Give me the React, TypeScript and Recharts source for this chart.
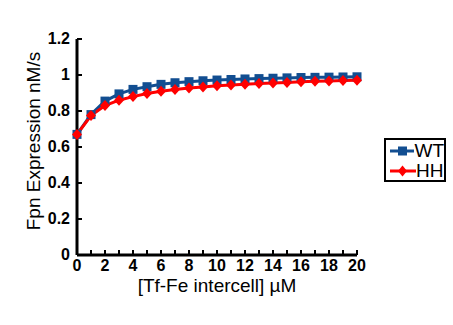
import React from "react";
import { LineChart, Line, XAxis, YAxis, Legend } from "recharts";

const concentrations = [0, 1, 2, 3, 4, 5, 6, 7, 8, 9, 10, 11, 12, 13, 14, 15, 16, 17, 18, 19, 20];
const wtValues = [0.67, 0.78, 0.855, 0.895, 0.92, 0.935, 0.948, 0.957, 0.963, 0.968, 0.972, 0.975, 0.978, 0.98, 0.982, 0.984, 0.986, 0.987, 0.988, 0.989, 0.99];
const hhValues = [0.67, 0.775, 0.83, 0.86, 0.88, 0.897, 0.91, 0.92, 0.928, 0.934, 0.94, 0.945, 0.949, 0.953, 0.956, 0.959, 0.962, 0.965, 0.967, 0.969, 0.971];
const yTicks = [0, 0.2, 0.4, 0.6, 0.8, 1, 1.2];

const data = concentrations.map((c, i) => ({ c, wt: wtValues[i], hh: hhValues[i] }));

const FONT = "Liberation Sans, Arial, sans-serif";
const BLUE = "#124e91";
const RED = "#ff0000";

const XTick = (props: any) => {
  const { x, y, payload } = props;
  const v = payload.value;
  return (
    <g>
      <line x1={x} x2={x} y1={y - 3} y2={y - 8} stroke="#000" strokeWidth={2} />
      {v % 2 === 0 && (
        <text x={x} y={y} dy={13} textAnchor="middle" fontFamily={FONT} fontWeight="bold" fontSize={16} fill="#000">
          {v}
        </text>
      )}
    </g>
  );
};

const YTick = (props: any) => {
  const { x, y, payload } = props;
  return (
    <g>
      <line x1={x + 3} x2={x + 8} y1={y} y2={y} stroke="#000" strokeWidth={2} />
      <text x={x - 4} y={y} dy={5} textAnchor="end" fontFamily={FONT} fontWeight="bold" fontSize={16} fill="#000">
        {String(payload.value)}
      </text>
    </g>
  );
};

const XTitle = (props: any) => {
  const { viewBox } = props;
  const cx = viewBox.x + viewBox.width / 2;
  return (
    <text x={cx} y={292} textAnchor="middle" fontFamily={FONT} fontSize={19} fill="#000">
      [Tf-Fe intercell] µM
    </text>
  );
};

const YTitle = () => (
  <text x={40} y={141} transform="rotate(-90 40 141)" textAnchor="middle" fontFamily={FONT} fontSize={19} fill="#000">
    Fpn Expression nM/s
  </text>
);

const Square = (props: any) => {
  const { cx, cy } = props;
  return <rect x={cx - 4.5} y={cy - 4.5} width={9} height={9} fill={BLUE} />;
};

const Diamond = (props: any) => {
  const { cx, cy } = props;
  return <path d={`M${cx},${cy - 5.5}L${cx + 5},${cy}L${cx},${cy + 5.5}L${cx - 5},${cy}Z`} fill={RED} />;
};

const LegendBox = () => (
  <div
    style={{
      border: "2px solid #000",
      width: 62,
      height: 44,
      fontFamily: FONT,
      fontSize: 19,
      lineHeight: "20px",
      paddingTop: 1,
      boxSizing: "border-box",
    }}
  >
    {[
      { name: "WT", color: BLUE, marker: "sq" },
      { name: "HH", color: RED, marker: "dm" },
    ].map((it) => (
      <div key={it.name} style={{ display: "flex", alignItems: "center", height: 20 }}>
        <svg width={26} height={20} style={{ marginLeft: 4 }}>
          <line x1={0} x2={26} y1={10} y2={10} stroke={it.color} strokeWidth={3} />
          {it.marker === "sq" ? (
            <rect x={8} y={5.5} width={9} height={9} fill={it.color} />
          ) : (
            <path d="M12.5,4.5L17,10L12.5,15.5L8,10Z" fill={it.color} />
          )}
        </svg>
        <span style={{ color: "#000" }}>{it.name}</span>
      </div>
    ))}
  </div>
);

export default function App() {
  return (
    <div style={{ position: "absolute", left: 0, top: 0, background: "#fff" }}>
      <LineChart width={453} height={325} data={data} margin={{ top: 39, right: 96, bottom: 40, left: 37 }}>
        <XAxis
          dataKey="c"
          type="number"
          domain={[0, 20]}
          ticks={concentrations}
          interval={0}
          tick={<XTick />}
          tickLine={false}
          tickSize={0}
          tickMargin={3}
          height={30}
          axisLine={{ stroke: "#000", strokeWidth: 3 }}
          label={<XTitle />}
        />
        <YAxis
          type="number"
          domain={[0, 1.2]}
          ticks={yTicks}
          interval={0}
          tick={<YTick />}
          tickLine={false}
          tickSize={0}
          tickMargin={3}
          width={40}
          axisLine={{ stroke: "#000", strokeWidth: 3 }}
          label={<YTitle />}
        />
        <Line dataKey="wt" name="WT" stroke={BLUE} strokeWidth={3} dot={<Square />} isAnimationActive={false} />
        <Line dataKey="hh" name="HH" stroke={RED} strokeWidth={3} dot={<Diamond />} isAnimationActive={false} />
        <Legend
          layout="horizontal"
          verticalAlign="middle"
          content={<LegendBox />}
          wrapperStyle={{ position: "absolute", left: 384, top: 138, width: 62 }}
        />
      </LineChart>
    </div>
  );
}
